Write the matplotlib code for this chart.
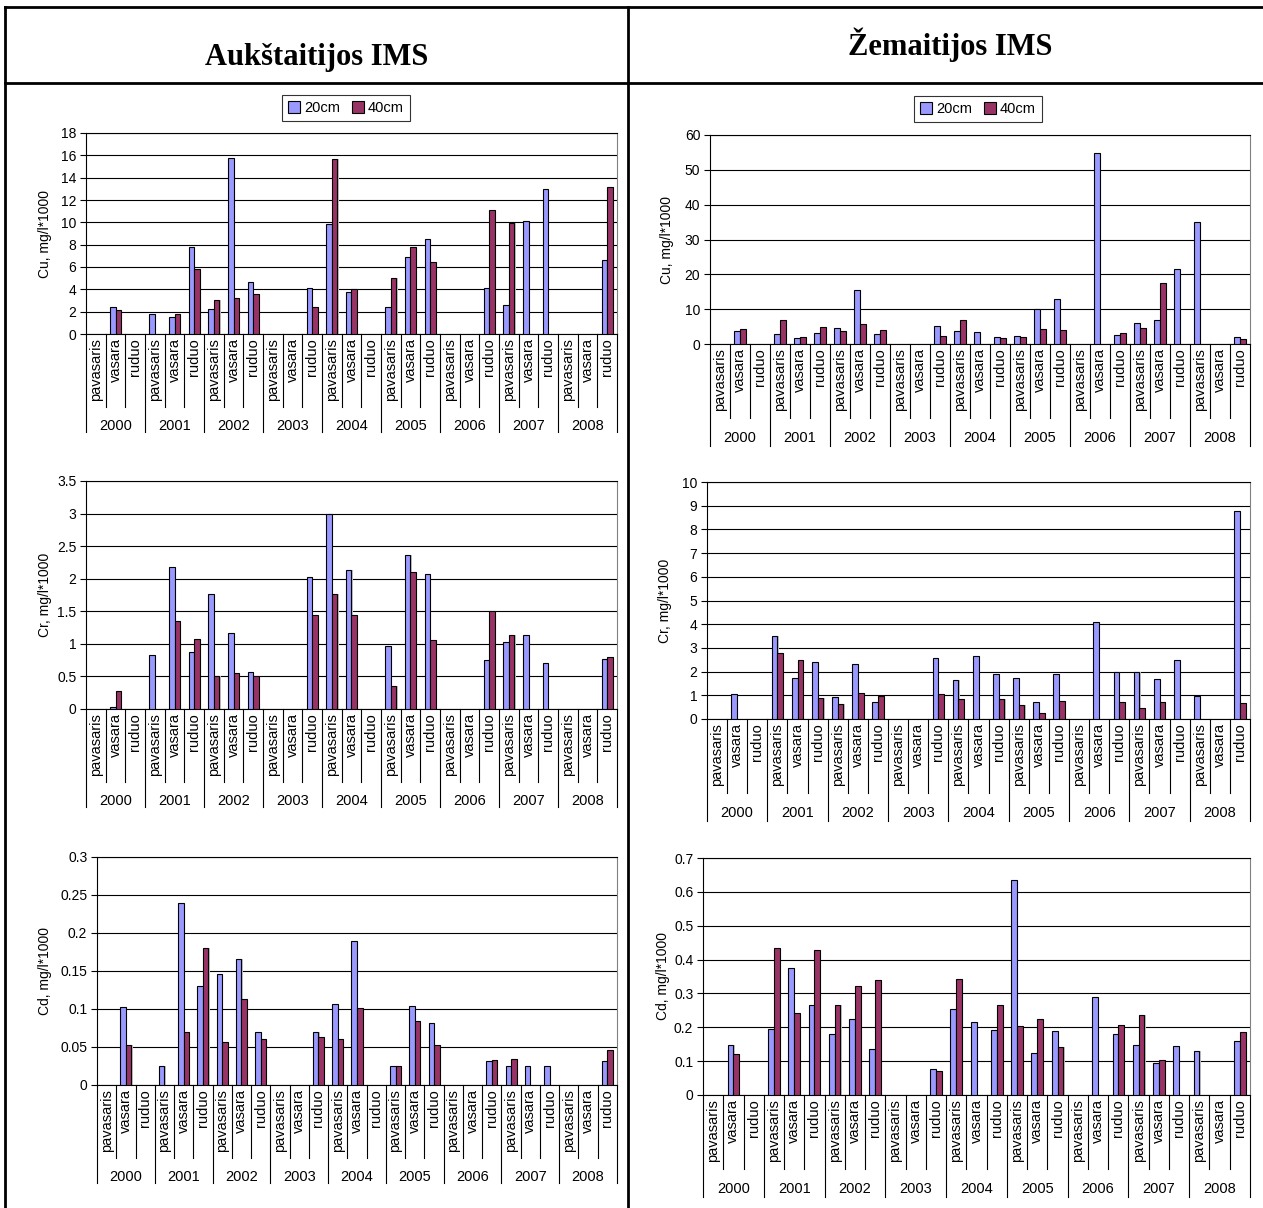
"""Heavy metals (Cu, Cr, Cd) in soil water at two monitoring stations, 2000-2008."""

import matplotlib

matplotlib.use("Agg")
import matplotlib.pyplot as plt
import matplotlib.transforms as mtransforms
import numpy as np
from matplotlib.lines import Line2D
from matplotlib.patches import Patch

N = np.nan

years = ["2000", "2001", "2002", "2003", "2004", "2005", "2006", "2007", "2008"]
seasons = ["pavasaris", "vasara", "ruduo"]
series_names = ["20cm", "40cm"]

# Aukštaitijos IMS
auk_cu_20 = [N, 2.45, N, 1.83, 1.5, 7.81, 2.28, 15.75, 4.67, N, N, 4.13, 9.88, 3.77, N,
             2.43, 6.89, 8.53, N, N, 4.13, 2.63, 10.09, 13.0, N, N, 6.62]
auk_cu_40 = [N, 2.15, N, N, 1.77, 5.78, 3.08, 3.23, 3.59, N, N, 2.43, 15.66, 4.04, N,
             5.03, 7.75, 6.47, N, N, 11.08, 9.91, N, N, N, N, 13.2]
auk_cr_20 = [N, 0.026, N, 0.835, 2.18, 0.876, 1.76, 1.16, 0.57, N, N, 2.02, 3.0, 2.14, N,
             0.96, 2.37, 2.08, N, N, 0.75, 1.03, 1.13, 0.71, N, N, 0.76]
auk_cr_40 = [N, 0.27, N, N, 1.35, 1.08, 0.51, 0.56, 0.50, N, N, 1.45, 1.77, 1.44, N,
             0.35, 2.11, 1.06, N, N, 1.50, 1.14, N, N, N, N, 0.80]
auk_cd_20 = [N, 0.103, N, 0.025, 0.240, 0.130, 0.1465, 0.166, 0.0695, N, N, 0.0695, 0.106,
             0.190, N, 0.025, 0.104, 0.082, N, N, 0.032, 0.025, 0.025, 0.025, N, N, 0.031]
auk_cd_40 = [N, 0.052, N, N, 0.0695, 0.180, 0.057, 0.113, 0.060, N, N, 0.063, 0.060,
             0.101, N, 0.025, 0.0845, 0.052, N, N, 0.0335, 0.034, N, N, N, N, 0.046]

# Žemaitijos IMS
zem_cu_20 = [N, 3.84, N, 2.97, 1.82, 3.16, 4.6, 15.5, 2.97, N, N, 5.18, 3.74, 3.55, 2.11,
             2.2, 10.07, 12.94, N, 54.9, 2.59, 6.14, 6.9, 21.48, 35.0, N, 2.0]
zem_cu_40 = [N, 4.31, N, 6.81, 2.0, 4.99, 3.74, 5.85, 3.93, N, N, 2.4, 6.9, N, 1.63,
             2.0, 4.22, 3.93, N, N, 3.26, 4.7, 17.64, N, N, N, 1.53]
zem_cr_20 = [N, 1.04, N, 3.49, 1.73, 2.41, 0.93, 2.34, 0.72, N, N, 2.58, 1.65, 2.65, 1.9,
             1.73, 0.73, 1.9, N, 4.08, 1.97, 2.0, 1.7, 2.49, 0.96, N, 8.79]
zem_cr_40 = [N, N, N, 2.8, 2.48, 0.89, 0.63, 1.08, 0.99, N, N, 1.04, 0.85, N, 0.85,
             0.59, 0.25, 0.76, N, N, 0.72, 0.45, 0.73, N, N, N, 0.68]
zem_cd_20 = [N, 0.149, N, 0.195, 0.375, 0.266, 0.179, 0.223, 0.136, N, N, 0.076, 0.253,
             0.215, 0.192, 0.635, 0.124, 0.189, N, 0.288, 0.179, 0.149, 0.095, 0.145,
             0.13, N, 0.16]
zem_cd_40 = [N, 0.12, N, 0.434, 0.242, 0.429, 0.266, 0.323, 0.34, N, N, 0.07, 0.344, N,
             0.266, 0.203, 0.224, 0.143, N, N, 0.207, 0.236, 0.103, N, N, N, 0.187]

W, H = 1263, 1208
BLUE = "#9999FF"
RED = "#993366"

plt.rcParams["font.family"] = ["Liberation Sans", "DejaVu Sans"]

fig = plt.figure(figsize=(W / 100, H / 100), dpi=100)


def px_axes(x0, y_top, x1, y_bot):
    return fig.add_axes([x0 / W, 1 - y_bot / H, (x1 - x0) / W, (y_bot - y_top) / H])


def draw_panel(ax, v20, v40, ymax, ystep, ylabel, ylabel_x, box, cat_px):
    x0, y_top, x1, y_bot = box
    inner_px, year_text_px, year_line_px = cat_px
    h_px = y_bot - y_top
    w_px = x1 - x0
    n = len(v20)
    x = np.arange(n)
    bw = 0.286
    for vals, off, col in ((v20, -bw / 2, BLUE), (v40, bw / 2, RED)):
        vals = np.array(vals, dtype=float)
        m = ~np.isnan(vals)
        # light shadow on the right, like the spreadsheet rendering
        ax.bar(x[m] + off + 0.06, vals[m], width=bw, color="#c0c0c0",
               edgecolor="none", zorder=2)
        ax.bar(x[m] + off, vals[m], width=bw, color=col, edgecolor="black",
               linewidth=0.8, zorder=3)

    ax.set_xlim(-0.5, n - 0.5)
    ax.set_ylim(0, ymax)
    ticks = np.arange(0, ymax + ystep / 2, ystep)
    ax.set_yticks(ticks)
    ax.set_yticklabels([f"{round(t, 4):g}" for t in ticks], fontsize=10)
    ax.yaxis.grid(True, color="black", linewidth=0.8)
    ax.set_axisbelow(True)
    ax.tick_params(axis="y", length=4, width=0.8, pad=3)

    ax.set_xticks(x)
    ax.set_xticklabels(seasons * len(years), rotation=90, fontsize=10.5)
    ax.tick_params(axis="x", length=0, pad=3)

    for side in ("left", "bottom", "top"):
        ax.spines[side].set_color("black")
        ax.spines[side].set_linewidth(0.8)
    ax.spines["right"].set_color("#808080")
    ax.spines["right"].set_linewidth(0.8)

    trans = mtransforms.blended_transform_factory(ax.transData, ax.transAxes)
    for k in range(n + 1):
        ln = year_line_px if k % 3 == 0 else inner_px
        ax.plot([k - 0.5, k - 0.5], [0, -ln / h_px], transform=trans, color="black",
                linewidth=0.8, clip_on=False)
    for i, yr in enumerate(years):
        ax.text(3 * i + 1, -year_text_px / h_px, yr, transform=trans, ha="center",
                va="center", fontsize=10.5)

    ax.text((ylabel_x - x0) / w_px, 0.5, ylabel, transform=ax.transAxes,
            rotation=90, ha="center", va="center", fontsize=10)


left_cat = (73, 92, 98)
right_cat = (74, 94, 102)

panels = [
    (auk_cu_20, auk_cu_40, 18, 2, "Cu, mg/l*1000", 45, (86, 133, 617, 334), left_cat),
    (auk_cr_20, auk_cr_40, 3.5, 0.5, "Cr, mg/l*1000", 45, (86, 481, 617, 709), left_cat),
    (auk_cd_20, auk_cd_40, 0.3, 0.05, "Cd, mg/l*1000", 45, (97, 857, 617, 1085), left_cat),
    (zem_cu_20, zem_cu_40, 60, 10, "Cu, mg/l*1000", 667, (710, 135, 1250, 344), right_cat),
    (zem_cr_20, zem_cr_40, 10, 1, "Cr, mg/l*1000", 665, (707, 482, 1250, 719), right_cat),
    (zem_cd_20, zem_cd_40, 0.7, 0.1, "Cd, mg/l*1000", 663, (703, 858, 1250, 1095), right_cat),
]

for v20, v40, ymax, ystep, ylabel, lx, box, cat_px in panels:
    ax = px_axes(*box)
    draw_panel(ax, v20, v40, ymax, ystep, ylabel, lx, box, cat_px)

# table frame
frame_kw = dict(color="black", linewidth=2, transform=fig.transFigure)
for xs, ys in (
    ((5, W), (7, 7)),
    ((5, W), (83, 83)),
    ((5, 5), (7, H)),
    ((628, 628), (7, H)),
):
    fig.add_artist(Line2D([x / W for x in xs], [1 - y / H for y in ys], **frame_kw))

title_font = dict(family=["Liberation Serif", "DejaVu Serif"], fontweight="bold",
                  fontsize=22, ha="center", va="center")
fig.text(317 / W, 1 - 58 / H, "Aukštaitijos IMS", **title_font)
fig.text(950 / W, 1 - 45 / H, "Žemaitijos IMS", **title_font)

handles = [Patch(facecolor=BLUE, edgecolor="black", linewidth=0.8),
           Patch(facecolor=RED, edgecolor="black", linewidth=0.8)]
for cx, cy in ((346, 108), (978, 109)):
    leg = fig.legend(handles, series_names, loc="center",
                     bbox_to_anchor=(cx / W, 1 - cy / H), ncol=2, fontsize=10.5,
                     frameon=True, fancybox=False, handlelength=0.8,
                     handleheight=0.8, handletextpad=0.3, columnspacing=0.8,
                     borderpad=0.4, borderaxespad=0)
    leg.get_frame().set_edgecolor("black")
    leg.get_frame().set_linewidth(0.8)

fig.savefig("out.png", dpi=100)
